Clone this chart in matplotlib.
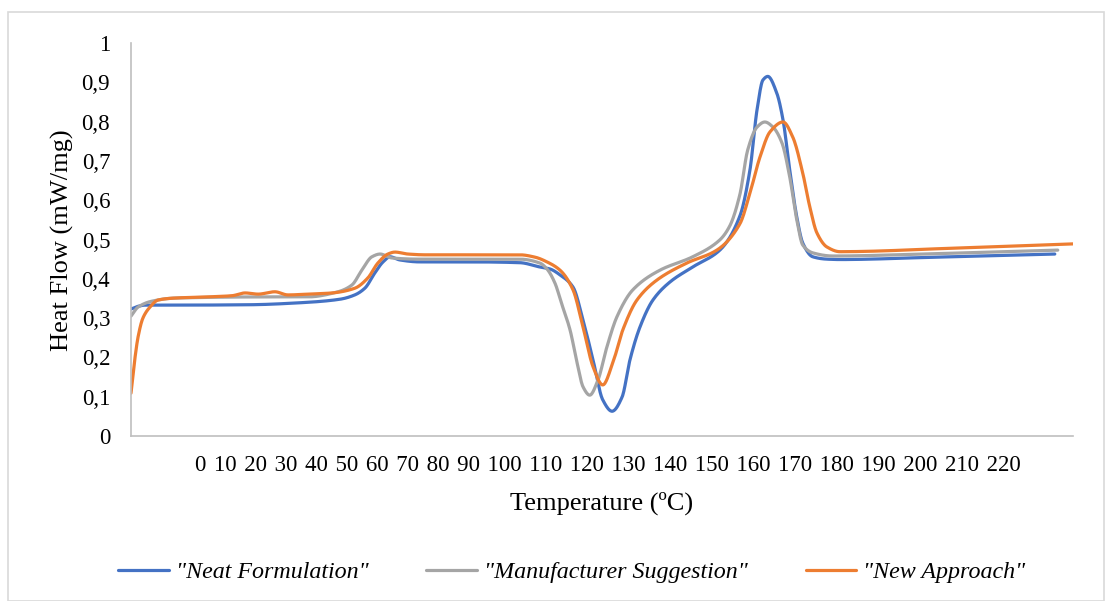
import numpy as np
import matplotlib
matplotlib.use("Agg")
import matplotlib.pyplot as plt
from matplotlib.patches import Rectangle

plt.rcParams['font.family'] = ['Liberation Serif', 'DejaVu Serif']

# data (temperature in degC, heat flow in mW/mg)
neat_t = [-16.4, -14.5, -12.6, -4.6, 15.6, 29.0, 39.8, 43.8, 46.5, 49.2, 51.4, 53.3, 55.9, 61.3,
          74.8, 88.2, 93.6, 96.3, 99.0, 102.5, 105.2, 107.9, 110.5, 113.0, 115.7, 117.8, 120.5,
          124.0, 128.6, 134.7, 142.0, 147.4, 150.1, 152.0, 153.6, 154.9, 157.3, 159.0, 160.8,
          162.7, 164.3, 167.0, 170.8, 174.3, 200.0, 232.1]
neat_v = [0.323, 0.330, 0.333, 0.333, 0.334, 0.339, 0.348, 0.359, 0.376, 0.415, 0.443, 0.456, 0.448, 0.443,
          0.443, 0.441, 0.430, 0.425, 0.410, 0.379, 0.295, 0.193, 0.092, 0.063, 0.099, 0.193, 0.277,
          0.346, 0.392, 0.430, 0.473, 0.560, 0.677, 0.830, 0.906, 0.915, 0.873, 0.804, 0.677,
          0.557, 0.491, 0.456, 0.450, 0.449, 0.455, 0.463]

manuf_t = [-16.4, -14.5, -10.8, -4.6, 22.3, 31.2, 39.3, 43.0, 45.7, 48.4, 50.6, 53.8, 60.8, 74.8,
           88.2, 93.6, 95.5, 97.6, 99.5, 101.7, 103.6, 105.2, 107.0, 109.2, 111.6, 114.3, 118.6, 125.9,
           134.7, 142.0, 144.7, 147.4, 149.5, 152.0, 154.1, 156.3, 158.7, 160.8, 162.7, 164.3,
           167.0, 172.4, 200.0, 232.9]
manuf_v = [0.305, 0.328, 0.343, 0.351, 0.354, 0.354, 0.367, 0.384, 0.422, 0.456, 0.463, 0.453, 0.450, 0.450,
           0.450, 0.440, 0.425, 0.390, 0.335, 0.270, 0.186, 0.125, 0.104, 0.142, 0.226, 0.303, 0.372, 0.422,
           0.456, 0.499, 0.535, 0.615, 0.728, 0.786, 0.799, 0.786, 0.746, 0.659, 0.550, 0.486,
           0.466, 0.458, 0.464, 0.473]

new_t = [-16.4, -15.3, -14.5, -13.2, -11.3, -9.1, -4.6, 4.3, 10.8, 14.3, 17.8, 22.3, 25.8, 31.2,
         37.7, 43.8, 47.3, 50.0, 52.7, 54.6, 58.1, 62.7, 74.8, 88.2, 92.3, 95.5, 99.0, 102.5,
         105.2, 107.9, 110.5, 113.2, 115.9, 119.7, 125.1, 133.1, 141.2, 147.4, 150.1, 152.8,
         155.5, 159.0, 161.6, 164.3, 166.2, 168.1, 170.8, 174.3, 205.0, 237.5]
new_v = [0.109, 0.201, 0.252, 0.300, 0.328, 0.346, 0.351, 0.354, 0.357, 0.364, 0.361, 0.367, 0.359, 0.361,
         0.364, 0.376, 0.402, 0.440, 0.463, 0.468, 0.463, 0.461, 0.461, 0.461, 0.455, 0.443, 0.422, 0.372,
         0.277, 0.176, 0.130, 0.186, 0.270, 0.346, 0.397, 0.440, 0.473, 0.540, 0.618, 0.710,
         0.774, 0.799, 0.761, 0.669, 0.583, 0.517, 0.481, 0.469, 0.478, 0.489]

x_tick_labels = [str(v) for v in range(0, 230, 10)]
y_ticks = [0, 0.1, 0.2, 0.3, 0.4, 0.5, 0.6, 0.7, 0.8, 0.9, 1]

series = [
    ('"Neat Formulation"', neat_t, neat_v, '#4472C4'),
    ('"Manufacturer Suggestion"', manuf_t, manuf_v, '#A5A5A5'),
    ('"New Approach"', new_t, new_v, '#ED7D31'),
]


def smooth(x, y, n=400):
    # monotone cubic (pchip) through the read points, to get a smoothed line like excel
    x = np.asarray(x, float)
    y = np.asarray(y, float)
    h = np.diff(x)
    d = np.diff(y) / h
    m = np.zeros_like(y)
    for k in range(1, len(x) - 1):
        if d[k - 1] * d[k] > 0:
            w1 = 2 * h[k] + h[k - 1]
            w2 = h[k] + 2 * h[k - 1]
            m[k] = (w1 + w2) / (w1 / d[k - 1] + w2 / d[k])
    m[0] = d[0]
    m[-1] = d[-1]
    xs = np.linspace(x[0], x[-1], n * 4)
    idx = np.clip(np.searchsorted(x, xs) - 1, 0, len(x) - 2)
    t = (xs - x[idx]) / h[idx]
    h00 = 2 * t ** 3 - 3 * t ** 2 + 1
    h10 = t ** 3 - 2 * t ** 2 + t
    h01 = -2 * t ** 3 + 3 * t ** 2
    h11 = t ** 3 - t ** 2
    ys = h00 * y[idx] + h10 * h[idx] * m[idx] + h01 * y[idx + 1] + h11 * h[idx] * m[idx + 1]
    return xs, ys


fig = plt.figure(figsize=(11.09, 6.01), dpi=100)
ax = fig.add_axes([131 / 1109, 1 - 436 / 601, (1073 - 131) / 1109, (436 - 43) / 601])

for name, t, v, c in series:
    xs, ys = smooth(t, v)
    ax.plot(xs, ys, color=c, lw=2.3, label=name, solid_capstyle='round')

ax.set_xlim(-16.4, 237.0)
ax.set_ylim(0, 1)
ax.set_yticks(y_ticks)
ax.set_yticklabels([('%g' % v).replace('.', ',') for v in y_ticks], fontsize=16.5)
ax.tick_params(axis='y', length=0, pad=15)
ax.set_xticks([])
for s in ['top', 'right']:
    ax.spines[s].set_visible(False)
for s in ['left', 'bottom']:
    ax.spines[s].set_color('#BFBFBF')
    ax.spines[s].set_linewidth(1.2)

# excel category labels come out as one crammed row
ax.text(0.506, -0.074, ' \u200a'.join(x_tick_labels), transform=ax.transAxes,
        ha='center', va='center', fontsize=16.5)

fig.text(602 / 1109, 1 - 503 / 601, 'Temperature (ºC)', ha='center', va='center', fontsize=19)
fig.text(62 / 1109, 1 - 240 / 601, 'Heat Flow (mW/mg)', ha='center', va='center',
         rotation=90, fontsize=19)

fig.legend(loc='center', bbox_to_anchor=(572 / 1109, 1 - 572 / 601), ncol=3, frameon=False,
           prop={'style': 'italic', 'size': 17.3}, handlelength=2.1, columnspacing=2.4,
           handletextpad=0.3)

fig.add_artist(Rectangle((8 / 1109, 0.0), (1104 - 8) / 1109, (601 - 12) / 601,
                         transform=fig.transFigure, fill=False, ec='#D9D9D9', lw=1.2))

fig.savefig('out.png', dpi=100)
